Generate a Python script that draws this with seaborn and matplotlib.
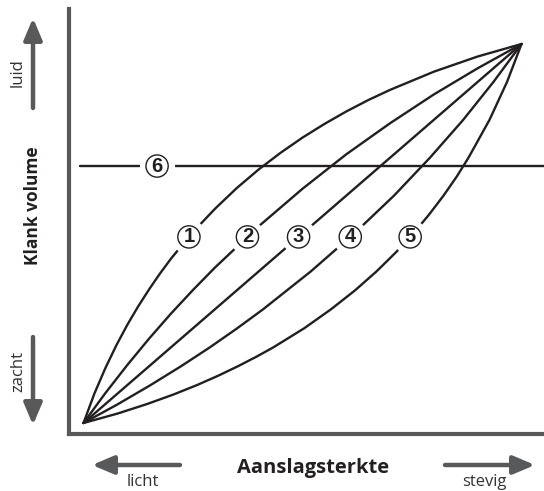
import numpy as np
import pandas as pd
import matplotlib
matplotlib.use("Agg")
import matplotlib.pyplot as plt
import seaborn as sns

# ---- data (normalised 0..1) ----
curve_names = ["1", "2", "3", "4", "5"]
c1_x = [0, 0.025, 0.05, 0.075, 0.1, 0.125, 0.15, 0.175, 0.2, 0.25, 0.3, 0.35, 0.4,
        0.45, 0.5, 0.55, 0.6, 0.65, 0.7, 0.8, 0.9, 1.0]
c1_y = [0, 0.078, 0.145, 0.205, 0.259, 0.308, 0.353, 0.395, 0.434, 0.504, 0.565, 0.620, 0.669,
        0.713, 0.753, 0.789, 0.822, 0.852, 0.879, 0.927, 0.967, 1.0]
c2_x = [0, 0.05, 0.1, 0.15, 0.2, 0.25, 0.3, 0.4, 0.5, 0.6, 0.7, 0.8, 0.9, 1.0]
c2_y = [0, 0.079, 0.153, 0.223, 0.289, 0.351, 0.410, 0.519, 0.618, 0.709, 0.791, 0.867, 0.936, 1.0]
c3_x = [0, 1.0]
c3_y = [0, 1.0]
c4_x = [0, 0.079, 0.153, 0.223, 0.289, 0.351, 0.410, 0.519, 0.618, 0.709, 0.791, 0.867, 0.936, 1.0]
c4_y = [0, 0.05, 0.1, 0.15, 0.2, 0.25, 0.3, 0.4, 0.5, 0.6, 0.7, 0.8, 0.9, 1.0]
c5_x = [0, 0.078, 0.145, 0.205, 0.259, 0.308, 0.353, 0.395, 0.434, 0.504, 0.565, 0.620, 0.669,
        0.713, 0.753, 0.789, 0.822, 0.852, 0.879, 0.927, 0.967, 1.0]
c5_y = [0, 0.025, 0.05, 0.075, 0.1, 0.125, 0.15, 0.175, 0.2, 0.25, 0.3, 0.35, 0.4,
        0.45, 0.5, 0.55, 0.6, 0.65, 0.7, 0.8, 0.9, 1.0]
level6 = 0.678          # constant-volume curve 6
label_level = 0.491     # height of the circled labels 1-5
label6_x = 0.168

x_title = "Aanslagsterkte"
y_title = "Klank volume"
x_low, x_high = "licht", "stevig"
y_low, y_high = "zacht", "luid"

# ---- styling ----
sns.set_style("white")
plt.rcParams["font.family"] = ["Open Sans", "DejaVu Sans"]
INK = "#231f20"
GREY = "#58595b"

fig = plt.figure(figsize=(5.44, 4.91), dpi=100)
ax = fig.add_axes([68.7 / 544, 57 / 491, (544 - 68.7) / 544, (434 - 9.3) / 491])

rows = []
for name, xs, ys in zip(curve_names, [c1_x, c2_x, c3_x, c4_x, c5_x],
                        [c1_y, c2_y, c3_y, c4_y, c5_y]):
    for i, (xv, yv) in enumerate(zip(xs, ys)):
        rows.append({"curve": name, "order": i, "x": xv, "y": yv})
df = pd.DataFrame(rows)

sns.lineplot(data=df, x="x", y="y", units="curve", estimator=None, sort=False,
             color=INK, lw=1.7, ax=ax, legend=False, zorder=2)
ax.axhline(level6, xmin=(80 - 68.7) / (544 - 68.7), xmax=1, color=INK, lw=1.7, zorder=2)

ax.set_xlim((68.7 - 83.5) / 438, (544 - 83.5) / 438)
ax.set_ylim((423 - 434) / 379, (423 - 9.3) / 379)
ax.set_xticks([])
ax.set_yticks([])
ax.set_xlabel("")
ax.set_ylabel("")
for s in ["top", "right"]:
    ax.spines[s].set_visible(False)
for s in ["left", "bottom"]:
    ax.spines[s].set_color(GREY)
    ax.spines[s].set_linewidth(3)

# circled labels
label_pos = []
for name, xs, ys in zip(curve_names, [c1_x, c2_x, c3_x, c4_x, c5_x],
                        [c1_y, c2_y, c3_y, c4_y, c5_y]):
    label_pos.append((name, float(np.interp(label_level, ys, xs)), label_level))
label_pos.append(("6", label6_x, level6))
for name, lx, ly in label_pos:
    ax.scatter([lx], [ly], s=640, color="white", zorder=4, linewidths=0)
    ax.text(lx, ly, name, ha="center", va="center", fontsize=14.5, fontweight="bold",
            family=["Liberation Sans", "DejaVu Sans"], color=INK, zorder=5,
            bbox=dict(boxstyle="circle,pad=0.08", fc="white", ec=INK, lw=1.0))

# axis titles
fig.text(313.5 / 544, 1 - 468 / 491, x_title, ha="center", va="center",
         fontsize=14.5, fontweight="bold", color=INK)
fig.text(33 / 544, 1 - 206 / 491, y_title, ha="center", va="center", rotation=90,
         fontsize=12.5, fontweight="bold", color=INK)
fig.text(143 / 544, 1 - 482 / 491, x_low, ha="center", va="center", fontsize=12, color="#333333")
fig.text(484 / 544, 1 - 482 / 491, x_high, ha="center", va="center", fontsize=12, color="#333333")
fig.text(18 / 544, 1 - 73 / 491, y_high, ha="center", va="center", rotation=90, fontsize=12, color="#333333")
fig.text(18 / 544, 1 - 372 / 491, y_low, ha="center", va="center", rotation=90, fontsize=12, color="#333333")

def arrow(tail, tip):
    ax.annotate("", xy=(tip[0], 491 - tip[1]), xytext=(tail[0], 491 - tail[1]),
                xycoords="figure pixels", textcoords="figure pixels",
                arrowprops=dict(arrowstyle="-|>,head_length=13,head_width=5.5",
                                mutation_scale=1, lw=3.2, color=GREY,
                                shrinkA=0, shrinkB=0, capstyle="round"),
                annotation_clip=False)

arrow((33, 108), (33, 18))
arrow((33, 337), (33, 425))
arrow((180, 465), (92, 465))
arrow((445, 465), (535, 465))

fig.savefig("out.png", dpi=100, facecolor="white")
